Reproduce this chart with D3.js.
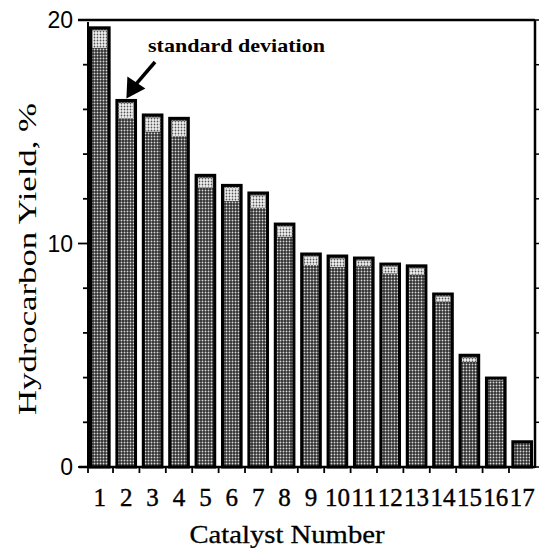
<!DOCTYPE html>
<html>
<head>
<meta charset="utf-8">
<script src="https://cdn.jsdelivr.net/npm/d3@7"></script>
<style>
  body { margin: 0; background: #fff; }
  svg { display: block; }
</style>
</head>
<body>
<script>
// catalyst numbers, mean yield and standard deviation
var catalysts = ["1","2","3","4","5","6","7","8","9","10","11","12","13","14","15","16","17"];
var meanYield = [18.75, 15.6, 15.0, 14.8, 12.5, 11.9, 11.6, 10.3, 9.04, 8.95, 8.98, 8.66, 8.6, 7.4, 4.7, 3.85, 1.1];
var stdDev    = [0.9, 0.8, 0.75, 0.8, 0.55, 0.7, 0.66, 0.57, 0.49, 0.49, 0.37, 0.42, 0.4, 0.34, 0.3, 0.13, 0.03];
var yTickLabels = [0, 10, 20];

(function(){
var W = 540, H = 548;
var mLeft = 89, mRight = 535, mTop = 20, mBottom = 467;

var svg = d3.select("body").append("svg")
    .attr("width", W).attr("height", H);

var defs = svg.append("defs");
var pd = defs.append("pattern").attr("id", "dark")
    .attr("width", 3).attr("height", 3).attr("patternUnits", "userSpaceOnUse");
pd.append("rect").attr("width", 3).attr("height", 3).attr("fill", "#2e2e2e");
pd.append("circle").attr("cx", 1.5).attr("cy", 1.5).attr("r", 0.95).attr("fill", "#d8d8d8");

var pl = defs.append("pattern").attr("id", "light")
    .attr("width", 3).attr("height", 3).attr("patternUnits", "userSpaceOnUse");
pl.append("rect").attr("width", 3).attr("height", 3).attr("fill", "#f2f2f2");
pl.append("circle").attr("cx", 1.5).attr("cy", 1.5).attr("r", 0.9).attr("fill", "#555");

var x = d3.scaleBand().domain(catalysts).range([mLeft, 533])
    .paddingInner(0.18).paddingOuter(0).align(0);
var y = d3.scaleLinear().domain([0, 20]).range([mBottom, mTop]);

var data = catalysts.map(function(c, i){
    return {cat: c, mean: meanYield[i], sd: stdDev[i]};
});

// bars
var bars = svg.append("g").selectAll("g").data(data).enter().append("g");
bars.append("rect")
    .attr("x", function(d){ return x(d.cat) + 1.5; })
    .attr("y", function(d){ return y(d.mean + d.sd); })
    .attr("width", x.bandwidth() - 3)
    .attr("height", function(d){ return y(0) - y(d.mean + d.sd); })
    .attr("fill", "url(#dark)")
    .attr("stroke", "#000").attr("stroke-width", 3);
bars.append("rect")
    .attr("x", function(d){ return x(d.cat) + 3.5; })
    .attr("y", function(d){ return y(d.mean + d.sd) + 2.5; })
    .attr("width", x.bandwidth() - 7)
    .attr("height", function(d){ return Math.max(0, y(d.mean) - y(d.mean + d.sd) - 2.5); })
    .attr("fill", "url(#light)");

// frame
svg.append("line").attr("x1", 78).attr("x2", mRight).attr("y1", mTop).attr("y2", mTop)
    .attr("stroke", "#000").attr("stroke-width", 2.5);
svg.append("line").attr("x1", mRight).attr("x2", mRight).attr("y1", mTop).attr("y2", mBottom + 1)
    .attr("stroke", "#000").attr("stroke-width", 2.5);
svg.append("line").attr("x1", mLeft - 1).attr("x2", mLeft - 1).attr("y1", mTop + 2).attr("y2", mBottom + 1)
    .attr("stroke", "#000").attr("stroke-width", 2);
svg.append("line").attr("x1", 79).attr("x2", mRight).attr("y1", mBottom).attr("y2", mBottom)
    .attr("stroke", "#000").attr("stroke-width", 2.5);

// y ticks, minor every 2
var minor = d3.range(0, 21, 2);
svg.append("g").selectAll("line").data(minor).enter().append("line")
    .attr("x1", function(d){ return d % 10 === 0 ? 78 : 83; })
    .attr("x2", mLeft - 1)
    .attr("y1", function(d){ return y(d); }).attr("y2", function(d){ return y(d); })
    .attr("stroke", "#000").attr("stroke-width", 1.8);
svg.append("g").selectAll("line").data(minor).enter().append("line")
    .attr("x1", mRight).attr("x2", mRight + 4)
    .attr("y1", function(d){ return y(d); }).attr("y2", function(d){ return y(d); })
    .attr("stroke", "#000").attr("stroke-width", 1.5);

svg.append("g").selectAll("text").data(yTickLabels).enter().append("text")
    .attr("x", 73).attr("y", function(d){ return y(d) + 8; })
    .attr("text-anchor", "end")
    .style("font-family", "Liberation Sans, Arial, sans-serif")
    .style("font-size", "23px")
    .text(function(d){ return d; });

// x ticks between bars
var gap = x.step() - x.bandwidth();
svg.append("g").selectAll("line").data(catalysts).enter().append("line")
    .attr("x1", function(d, i){ return i === 0 ? mLeft - 1 : x(d) - gap / 2; })
    .attr("x2", function(d, i){ return i === 0 ? mLeft - 1 : x(d) - gap / 2; })
    .attr("y1", mBottom).attr("y2", mBottom + 6)
    .attr("stroke", "#000").attr("stroke-width", 1.8);

svg.append("g").selectAll("text").data(catalysts).enter().append("text")
    .attr("x", function(d){ return x(d) + x.bandwidth() / 2; })
    .attr("y", 506)
    .attr("text-anchor", "middle")
    .style("font-family", "Liberation Serif, serif")
    .style("font-size", "25px")
    .style("stroke", "#000").style("stroke-width", 0.4)
    .attr("textLength", function(d){ return d.length > 1 ? 25 : null; })
    .attr("lengthAdjust", "spacingAndGlyphs")
    .text(function(d){ return d; });

// axis titles
svg.append("text")
    .attr("x", 287).attr("y", 543)
    .attr("text-anchor", "middle")
    .style("font-family", "Liberation Serif, serif")
    .style("font-size", "25px")
    .style("stroke", "#000").style("stroke-width", 0.3)
    .attr("textLength", 195).attr("lengthAdjust", "spacingAndGlyphs")
    .text("Catalyst Number");

svg.append("text")
    .attr("transform", "translate(36,259) rotate(-90)")
    .attr("text-anchor", "middle")
    .style("font-family", "Liberation Serif, serif")
    .style("font-size", "26px")
    .attr("textLength", 312).attr("lengthAdjust", "spacingAndGlyphs")
    .text("Hydrocarbon Yield, %");

// annotation
svg.append("text")
    .attr("x", 148).attr("y", 52)
    .style("font-family", "Liberation Serif, serif")
    .style("font-weight", "bold")
    .style("font-size", "19px")
    .attr("textLength", 177).attr("lengthAdjust", "spacingAndGlyphs")
    .text("standard deviation");

var tip = [x("2") + 11, y(meanYield[1] + stdDev[1]) - 2];
svg.append("line")
    .attr("x1", 155).attr("y1", 62).attr("x2", tip[0] + 6).attr("y2", tip[1] - 10)
    .attr("stroke", "#000").attr("stroke-width", 3.5);
svg.append("path")
    .attr("d", "M" + tip[0] + "," + tip[1] + "L" + (tip[0] + 1) + "," + (tip[1] - 22) +
               "L" + (tip[0] + 19) + "," + (tip[1] - 10) + "Z")
    .attr("fill", "#000");
})();
</script>
</body>
</html>
